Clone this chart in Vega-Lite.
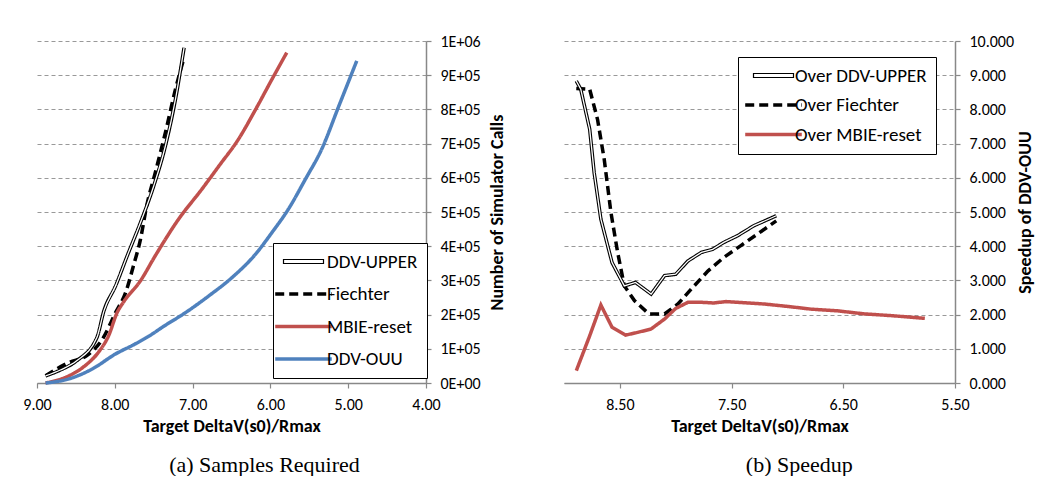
{
  "$schema": "https://vega.github.io/schema/vega-lite/v6.json",
  "padding": {"left": 22, "top": 33, "right": 0, "bottom": 0},
  "background": "white",
  "spacing": 57,
  "datasets": {
    "left": [
      {"series": "DDV-UPPER", "x": 8.89, "y": 21000},
      {"series": "DDV-UPPER", "x": 8.70, "y": 38000},
      {"series": "DDV-UPPER", "x": 8.49, "y": 65000},
      {"series": "DDV-UPPER", "x": 8.23, "y": 133000},
      {"series": "DDV-UPPER", "x": 8.14, "y": 211000},
      {"series": "DDV-UPPER", "x": 7.99, "y": 284000},
      {"series": "DDV-UPPER", "x": 7.84, "y": 372000},
      {"series": "DDV-UPPER", "x": 7.67, "y": 469000},
      {"series": "DDV-UPPER", "x": 7.50, "y": 576000},
      {"series": "DDV-UPPER", "x": 7.35, "y": 693000},
      {"series": "DDV-UPPER", "x": 7.22, "y": 830000},
      {"series": "DDV-UPPER", "x": 7.11, "y": 980000},
      {"series": "Fiechter", "x": 8.89, "y": 21000},
      {"series": "Fiechter", "x": 8.59, "y": 60000},
      {"series": "Fiechter", "x": 8.36, "y": 80000},
      {"series": "Fiechter", "x": 8.16, "y": 128000},
      {"series": "Fiechter", "x": 7.99, "y": 206000},
      {"series": "Fiechter", "x": 7.86, "y": 265000},
      {"series": "Fiechter", "x": 7.76, "y": 343000},
      {"series": "Fiechter", "x": 7.67, "y": 420000},
      {"series": "Fiechter", "x": 7.59, "y": 518000},
      {"series": "Fiechter", "x": 7.48, "y": 615000},
      {"series": "Fiechter", "x": 7.35, "y": 732000},
      {"series": "Fiechter", "x": 7.22, "y": 859000},
      {"series": "Fiechter", "x": 7.11, "y": 951000},
      {"series": "MBIE-reset", "x": 8.89, "y": 0},
      {"series": "MBIE-reset", "x": 8.59, "y": 21000},
      {"series": "MBIE-reset", "x": 8.38, "y": 51000},
      {"series": "MBIE-reset", "x": 8.21, "y": 90000},
      {"series": "MBIE-reset", "x": 8.08, "y": 138000},
      {"series": "MBIE-reset", "x": 7.97, "y": 206000},
      {"series": "MBIE-reset", "x": 7.89, "y": 236000},
      {"series": "MBIE-reset", "x": 7.67, "y": 299000},
      {"series": "MBIE-reset", "x": 7.48, "y": 372000},
      {"series": "MBIE-reset", "x": 7.18, "y": 479000},
      {"series": "MBIE-reset", "x": 6.88, "y": 567000},
      {"series": "MBIE-reset", "x": 6.66, "y": 635000},
      {"series": "MBIE-reset", "x": 6.41, "y": 713000},
      {"series": "MBIE-reset", "x": 6.19, "y": 800000},
      {"series": "MBIE-reset", "x": 5.98, "y": 888000},
      {"series": "MBIE-reset", "x": 5.79, "y": 966000},
      {"series": "DDV-OUU", "x": 8.89, "y": 0},
      {"series": "DDV-OUU", "x": 8.59, "y": 12000},
      {"series": "DDV-OUU", "x": 8.29, "y": 41000},
      {"series": "DDV-OUU", "x": 7.99, "y": 85000},
      {"series": "DDV-OUU", "x": 7.74, "y": 114000},
      {"series": "DDV-OUU", "x": 7.52, "y": 143000},
      {"series": "DDV-OUU", "x": 7.39, "y": 163000},
      {"series": "DDV-OUU", "x": 7.09, "y": 206000},
      {"series": "DDV-OUU", "x": 6.79, "y": 255000},
      {"series": "DDV-OUU", "x": 6.49, "y": 309000},
      {"series": "DDV-OUU", "x": 6.19, "y": 377000},
      {"series": "DDV-OUU", "x": 5.98, "y": 440000},
      {"series": "DDV-OUU", "x": 5.77, "y": 508000},
      {"series": "DDV-OUU", "x": 5.55, "y": 596000},
      {"series": "DDV-OUU", "x": 5.34, "y": 684000},
      {"series": "DDV-OUU", "x": 5.12, "y": 810000},
      {"series": "DDV-OUU", "x": 4.89, "y": 942000}
    ],
    "right": [
      {"series": "Over DDV-UPPER", "x": 8.89, "y": 8.83},
      {"series": "Over DDV-UPPER", "x": 8.85, "y": 8.59},
      {"series": "Over DDV-UPPER", "x": 8.77, "y": 7.42},
      {"series": "Over DDV-UPPER", "x": 8.73, "y": 6.15},
      {"series": "Over DDV-UPPER", "x": 8.67, "y": 4.79},
      {"series": "Over DDV-UPPER", "x": 8.57, "y": 3.52},
      {"series": "Over DDV-UPPER", "x": 8.46, "y": 2.84},
      {"series": "Over DDV-UPPER", "x": 8.36, "y": 2.94},
      {"series": "Over DDV-UPPER", "x": 8.22, "y": 2.60},
      {"series": "Over DDV-UPPER", "x": 8.10, "y": 3.14},
      {"series": "Over DDV-UPPER", "x": 8.00, "y": 3.18},
      {"series": "Over DDV-UPPER", "x": 7.89, "y": 3.57},
      {"series": "Over DDV-UPPER", "x": 7.77, "y": 3.82},
      {"series": "Over DDV-UPPER", "x": 7.67, "y": 3.91},
      {"series": "Over DDV-UPPER", "x": 7.57, "y": 4.11},
      {"series": "Over DDV-UPPER", "x": 7.45, "y": 4.30},
      {"series": "Over DDV-UPPER", "x": 7.30, "y": 4.60},
      {"series": "Over DDV-UPPER", "x": 7.10, "y": 4.89},
      {"series": "Over Fiechter", "x": 8.89, "y": 8.61},
      {"series": "Over Fiechter", "x": 8.77, "y": 8.59},
      {"series": "Over Fiechter", "x": 8.70, "y": 7.71},
      {"series": "Over Fiechter", "x": 8.64, "y": 6.54},
      {"series": "Over Fiechter", "x": 8.58, "y": 4.99},
      {"series": "Over Fiechter", "x": 8.52, "y": 3.82},
      {"series": "Over Fiechter", "x": 8.46, "y": 2.84},
      {"series": "Over Fiechter", "x": 8.37, "y": 2.41},
      {"series": "Over Fiechter", "x": 8.24, "y": 2.02},
      {"series": "Over Fiechter", "x": 8.10, "y": 2.02},
      {"series": "Over Fiechter", "x": 7.98, "y": 2.31},
      {"series": "Over Fiechter", "x": 7.86, "y": 2.75},
      {"series": "Over Fiechter", "x": 7.71, "y": 3.28},
      {"series": "Over Fiechter", "x": 7.57, "y": 3.67},
      {"series": "Over Fiechter", "x": 7.42, "y": 4.01},
      {"series": "Over Fiechter", "x": 7.27, "y": 4.35},
      {"series": "Over Fiechter", "x": 7.10, "y": 4.74},
      {"series": "Over MBIE-reset", "x": 8.89, "y": 0.36},
      {"series": "Over MBIE-reset", "x": 8.77, "y": 1.38},
      {"series": "Over MBIE-reset", "x": 8.67, "y": 2.28},
      {"series": "Over MBIE-reset", "x": 8.57, "y": 1.63},
      {"series": "Over MBIE-reset", "x": 8.45, "y": 1.40},
      {"series": "Over MBIE-reset", "x": 8.34, "y": 1.48},
      {"series": "Over MBIE-reset", "x": 8.22, "y": 1.58},
      {"series": "Over MBIE-reset", "x": 8.10, "y": 1.87},
      {"series": "Over MBIE-reset", "x": 8.00, "y": 2.18},
      {"series": "Over MBIE-reset", "x": 7.89, "y": 2.36},
      {"series": "Over MBIE-reset", "x": 7.77, "y": 2.36},
      {"series": "Over MBIE-reset", "x": 7.66, "y": 2.34},
      {"series": "Over MBIE-reset", "x": 7.55, "y": 2.38},
      {"series": "Over MBIE-reset", "x": 7.45, "y": 2.36},
      {"series": "Over MBIE-reset", "x": 7.21, "y": 2.31},
      {"series": "Over MBIE-reset", "x": 7.00, "y": 2.24},
      {"series": "Over MBIE-reset", "x": 6.79, "y": 2.16},
      {"series": "Over MBIE-reset", "x": 6.55, "y": 2.11},
      {"series": "Over MBIE-reset", "x": 6.31, "y": 2.02},
      {"series": "Over MBIE-reset", "x": 6.07, "y": 1.97},
      {"series": "Over MBIE-reset", "x": 5.77, "y": 1.89}
    ]
  },
  "hconcat": [
    {
      "width": 389,
      "height": 342,
      "title": {"text": "(a)  Samples Required"},
      "data": {"name": "left"},
      "encoding": {
        "x": {"field": "x", "type": "quantitative",
          "scale": {"domain": [4, 9], "reverse": true, "nice": false, "zero": false},
          "axis": {"values": [9, 8, 7, 6, 5, 4], "format": ".2f", "title": "Target DeltaV(s0)/Rmax", "grid": false, "labelOverlap": false}},
        "y": {"field": "y", "type": "quantitative",
          "scale": {"domain": [0, 1000000], "nice": false},
          "axis": {"orient": "right", "values": [0, 100000, 200000, 300000, 400000, 500000, 600000, 700000, 800000, 900000, 1000000],
            "labelExpr": "datum.value == 0 ? '0E+00' : (datum.value >= 1000000 ? '1E+06' : format(datum.value / 100000, 'd') + 'E+05')",
            "title": "Number of Simulator Calls", "grid": true, "labelOverlap": false}}
      },
      "layer": [
        {
          "mark": {"type": "line", "strokeWidth": 3.5, "interpolate": "monotone", "strokeCap": "butt"},
          "encoding": {
            "color": {"field": "series", "type": "nominal",
              "scale": {"domain": ["DDV-UPPER", "Fiechter", "MBIE-reset", "DDV-OUU"], "range": ["black", "black", "#C0504D", "#4F81BD"]},
              "legend": {"orient": "none", "legendX": 236, "legendY": 202, "symbolOffset": 12, "labelOffset": 14, "rowPadding": 12.5,
                "encode": {"symbols": {"update": {
                  "shape": {"signal": "datum.value === 'DDV-UPPER' ? 'M-0.707,-0.07H0.707V0.07H-0.707Z' : 'stroke'"},
                  "fill": {"signal": "datum.value === 'DDV-UPPER' ? 'white' : 'transparent'"},
                  "strokeWidth": {"signal": "datum.value === 'DDV-UPPER' ? 1.2 : 3.5"}}}}}},
            "strokeDash": {"field": "series", "type": "nominal",
              "scale": {"domain": ["DDV-UPPER", "Fiechter", "MBIE-reset", "DDV-OUU"], "range": [[1, 0], [9, 5], [1, 0], [1, 0]]},
              "legend": {"orient": "none", "legendX": 236, "legendY": 202, "symbolOffset": 12, "labelOffset": 14, "rowPadding": 12.5}}
          }
        },
        {
          "transform": [{"filter": "datum.series === 'DDV-UPPER'"}],
          "mark": {"type": "line", "strokeWidth": 1.3, "color": "white", "interpolate": "monotone"}
        }
      ]
    },
    {
      "width": 391,
      "height": 342,
      "title": {"text": "(b)  Speedup"},
      "data": {"name": "right"},
      "encoding": {
        "x": {"field": "x", "type": "quantitative",
          "scale": {"domain": [5.5, 9], "reverse": true, "nice": false, "zero": false},
          "axis": {"values": [8.5, 7.5, 6.5, 5.5], "format": ".2f", "title": "Target DeltaV(s0)/Rmax", "grid": false, "labelOverlap": false}},
        "y": {"field": "y", "type": "quantitative",
          "scale": {"domain": [0, 10], "nice": false},
          "axis": {"orient": "right", "values": [0, 1, 2, 3, 4, 5, 6, 7, 8, 9, 10], "format": ".3f",
            "title": "Speedup of DDV-OUU", "grid": true, "labelOverlap": false, "titlePadding": 3}}
      },
      "layer": [
        {
          "mark": {"type": "line", "strokeWidth": 3.5, "strokeCap": "butt"},
          "encoding": {
            "color": {"field": "series", "type": "nominal",
              "scale": {"domain": ["Over DDV-UPPER", "Over Fiechter", "Over MBIE-reset"], "range": ["black", "black", "#C0504D"]},
              "legend": {"orient": "none", "legendX": 174, "legendY": 16, "rowPadding": 9.5, "labelFontSize": 19, "symbolOffset": 17, "labelOffset": 12,
                "encode": {"symbols": {"update": {
                  "shape": {"signal": "datum.value === 'Over DDV-UPPER' ? 'M-0.707,-0.07H0.707V0.07H-0.707Z' : 'stroke'"},
                  "fill": {"signal": "datum.value === 'Over DDV-UPPER' ? 'white' : 'transparent'"},
                  "strokeWidth": {"signal": "datum.value === 'Over DDV-UPPER' ? 1.2 : 3.5"}}}}}},
            "strokeDash": {"field": "series", "type": "nominal",
              "scale": {"domain": ["Over DDV-UPPER", "Over Fiechter", "Over MBIE-reset"], "range": [[1, 0], [9, 5], [1, 0]]},
              "legend": {"orient": "none", "legendX": 174, "legendY": 16, "rowPadding": 9.5, "labelFontSize": 19, "symbolOffset": 17, "labelOffset": 12}}
          }
        },
        {
          "transform": [{"filter": "datum.series === 'Over DDV-UPPER'"}],
          "mark": {"type": "line", "strokeWidth": 1.3, "color": "white"}
        }
      ]
    }
  ],
  "resolve": {"scale": {"color": "independent", "strokeDash": "independent", "x": "independent", "y": "independent"}, "legend": {"color": "independent", "strokeDash": "independent"}},
  "config": {
    "font": "Carlito, 'Liberation Sans Narrow', Lato, sans-serif",
    "view": {"stroke": null},
    "axis": {
      "labelFont": "Carlito, 'Liberation Sans Narrow', Lato, sans-serif",
      "labelFontSize": 16,
      "labelColor": "black",
      "titleFont": "Carlito, 'Liberation Sans Narrow', Lato, sans-serif",
      "titleFontSize": 18,
      "titleFontWeight": "bold",
      "titleColor": "black",
      "domainColor": "#888888",
      "domainWidth": 1.5,
      "tickColor": "#888888",
      "tickWidth": 1.2,
      "tickSize": 5,
      "gridColor": "#999999",
      "gridDash": [4, 3],
      "gridWidth": 1,
      "labelPadding": 8,
      "titlePadding": 5,
      "labelFlush": false,
      "labelOverlap": false
    },
    "axisRight": {"labelPadding": 9, "titleAngle": 270, "titleBaseline": "top", "titlePadding": 8},
    "legend": {
      "title": null,
      "labelFont": "Carlito, 'Liberation Sans Narrow', Lato, sans-serif",
      "labelFontSize": 19,
      "labelColor": "black",
      "symbolType": "stroke",
      "symbolSize": 3200,
      "symbolStrokeWidth": 3.5,
      "rowPadding": 14,
      "padding": 9,
      "strokeColor": "black",
      "fillColor": "white"
    },
    "title": {
      "orient": "bottom",
      "anchor": "middle",
      "frame": "bounds",
      "font": "'Liberation Serif', serif",
      "fontSize": 22,
      "fontWeight": "normal",
      "color": "black",
      "offset": 20
    }
  }
}
